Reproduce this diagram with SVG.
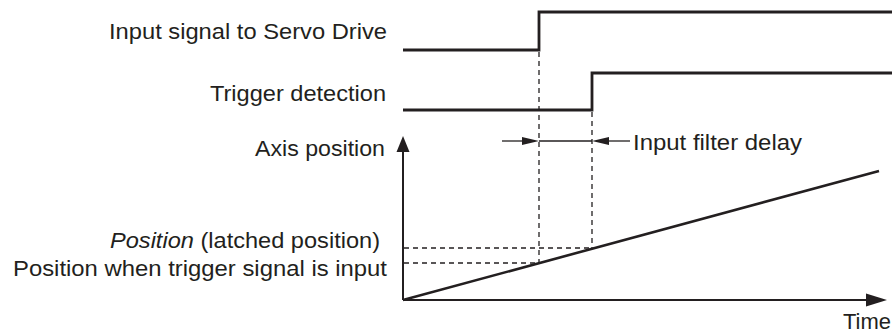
<svg xmlns="http://www.w3.org/2000/svg" width="892" height="335" viewBox="0 0 892 335">
<style>
.t{font-family:"Liberation Sans",Arial,sans-serif;font-size:21.5px;fill:#231f20}
.sig{fill:none;stroke:#231f20;stroke-width:2.8;stroke-linejoin:miter}
.ax{fill:none;stroke:#231f20;stroke-width:2}
.ramp{fill:none;stroke:#231f20;stroke-width:2.6}
.dash{fill:none;stroke:#231f20;stroke-width:1.3;stroke-dasharray:5 4}
.thin{fill:none;stroke:#231f20;stroke-width:1.3}
.ah{fill:#231f20}
</style>
<rect width="892" height="335" fill="#fff"/>
<g id="labels">
<text class="t" x="109" y="39" textLength="278" lengthAdjust="spacingAndGlyphs">Input signal to Servo Drive</text>
<text class="t" x="210" y="101" textLength="176" lengthAdjust="spacingAndGlyphs">Trigger detection</text>
<text class="t" x="255" y="156" textLength="130" lengthAdjust="spacingAndGlyphs">Axis position</text>
<text class="t" x="110" y="248" textLength="270" lengthAdjust="spacingAndGlyphs"><tspan font-style="italic">Position</tspan> (latched position)</text>
<text class="t" x="13" y="276" textLength="374" lengthAdjust="spacingAndGlyphs">Position when trigger signal is input</text>
<text class="t" x="843" y="329" textLength="48" lengthAdjust="spacingAndGlyphs">Time</text>
<text class="t" x="633" y="150" textLength="169" lengthAdjust="spacingAndGlyphs">Input filter delay</text>
</g>
<g id="signal-input">
<polyline class="sig" points="403,50 539,50 539,12 892,12"/>
</g>
<g id="signal-trigger">
<polyline class="sig" points="403,110 592,110 592,73 892,73"/>
</g>
<g id="axes">
<line class="ax" x1="403" y1="300" x2="403" y2="150"/>
<polygon class="ah" points="403,136 396.5,152 409.5,152"/>
<line class="ax" x1="403" y1="300" x2="870" y2="300"/>
<polygon class="ah" points="887,300 866,293.5 866,306.5"/>
</g>
<g id="ramp">
<line class="ramp" x1="403" y1="300" x2="879" y2="171"/>
</g>
<g id="connectors">
<line class="dash" x1="539" y1="52" x2="539" y2="263"/>
<line class="dash" x1="592" y1="112" x2="592" y2="248"/>
<line class="dash" x1="404" y1="248" x2="592" y2="248"/>
<line class="dash" x1="404" y1="263" x2="539" y2="263"/>
<line class="thin" x1="502" y1="141" x2="526" y2="141"/>
<polygon class="ah" points="539,141 522,137 522,145"/>
<line class="thin" x1="539" y1="141" x2="592" y2="141"/>
<polygon class="ah" points="592,141 609,137 609,145"/>
<line class="thin" x1="605" y1="141" x2="630" y2="141"/>
</g>
</svg>
